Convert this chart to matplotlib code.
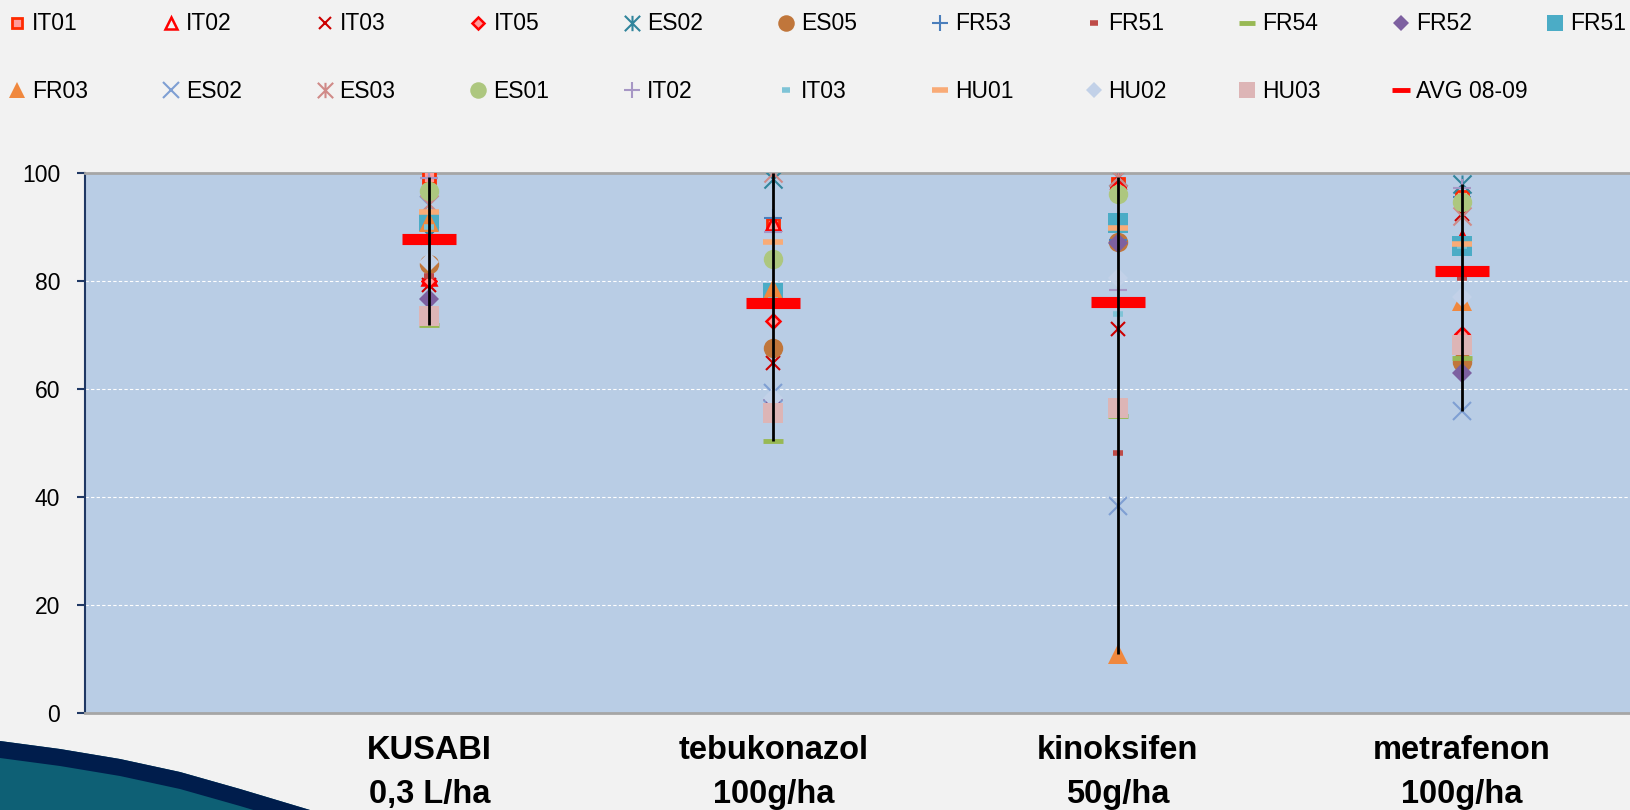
import numpy as np
import matplotlib
matplotlib.use('Agg')
import matplotlib.pyplot as plt
from matplotlib.path import Path

W, H = 1630, 810

# Chart data
categories = ['KUSABI\n0,3 L/ha', 'tebukonazol\n100g/ha', 'kinoksifen\n50g/ha', 'metrafenon\n100g/ha']
series_names = ['IT01', 'IT02', 'IT03', 'IT05', 'ES02', 'ES05', 'FR53', 'FR51', 'FR54', 'FR52', 'FR51',
                'FR03', 'ES02', 'ES03', 'ES01', 'IT02', 'IT03', 'HU01', 'HU02', 'HU03']
kusabi = [99.3, 80.5, 79.2, 80.0, 88.5, 83.1, 99.0, 81.0, 71.8, 76.6, 91.2,
          91.0, 94.0, 94.2, 96.7, 99.0, 90.0, 92.8, 83.5, 73.5]
tebukonazol = [90.4, 90.8, 64.8, 72.6, 98.8, 67.6, 91.6, 84.5, 50.4, 58.0, 77.8,
               78.6, 59.2, 100.0, 84.1, 89.1, 76.5, 87.3, 58.3, 55.6]
kinoksifen = [98.0, 98.5, 71.1, 97.5, 99.2, 87.3, 87.5, 48.1, 55.0, 87.1, 90.8,
              10.9, 38.3, 99.2, 96.2, 78.3, 73.8, 89.9, 80.6, 56.4]
metrafenon = [95.5, 88.0, 92.4, 70.2, 98.0, 65.0, 95.5, 80.6, 65.7, 62.9, 86.5,
              76.3, 55.9, 92.1, 94.7, 97.2, 86.5, 86.9, 77.1, 68.1]
avg_0809 = [87.7, 76.0, 76.2, 81.8]
y_ticks = [0, 20, 40, 60, 80, 100]

# marker styles (Excel-like)
asterisk = Path([(-1, -1), (1, 1), (-1, 1), (1, -1), (0, -1), (0, 1)],
                [Path.MOVETO, Path.LINETO, Path.MOVETO, Path.LINETO, Path.MOVETO, Path.LINETO])

styles = [
    dict(marker='s', ms=9, mfc='#FF9B9B', mec='#FF2A00', mew=2),
    dict(marker='^', ms=10, mfc='none', mec='#FF0000', mew=1.8),
    dict(marker='x', ms=10, mfc='none', mec='#CC0000', mew=1.5),
    dict(marker='D', ms=7, mfc='#FF9B9B', mec='#FF0000', mew=1.8),
    dict(marker=asterisk, ms=13, mfc='none', mec='#31859C', mew=1.5),
    dict(marker='o', ms=14, mfc='#C0763B', mec='#C0763B', mew=0),
    dict(marker='+', ms=13, mfc='none', mec='#4A7EBB', mew=1.5),
    dict(marker='_', ms=7, mec='#BE4B48', mew=4),
    dict(marker='_', ms=14, mec='#98B954', mew=3.5),
    dict(marker='D', ms=10, mfc='#7D60A0', mec='#7D60A0', mew=0),
    dict(marker='s', ms=14, mfc='#4BACC6', mec='#4BACC6', mew=0),
    dict(marker='^', ms=14, mfc='#F0883E', mec='#F0883E', mew=0),
    dict(marker='x', ms=13, mfc='none', mec='#7F9FD3', mew=1.5),
    dict(marker=asterisk, ms=13, mfc='none', mec='#D08A88', mew=1.5),
    dict(marker='o', ms=14, mfc='#ADC77F', mec='#ADC77F', mew=0),
    dict(marker='+', ms=13, mfc='none', mec='#A797C5', mew=1.5),
    dict(marker='_', ms=7, mec='#7FC4D7', mew=4),
    dict(marker='_', ms=14, mec='#F9AB77', mew=4),
    dict(marker='D', ms=10, mfc='#C2D1E8', mec='#C2D1E8', mew=0),
    dict(marker='s', ms=14, mfc='#DDB5B6', mec='#DDB5B6', mew=0),
]
avg_style = dict(marker='_', ms=39, mec='#FF0000', mew=8)

plt.rcParams['font.family'] = ['Liberation Sans', 'DejaVu Sans']

fig = plt.figure(figsize=(W / 100, H / 100), dpi=100, facecolor='#F2F2F2')

# background layer in pixel coordinates (slide decoration + legend)
bg = fig.add_axes([0, 0, 1, 1], zorder=0)
bg.set_xlim(0, W)
bg.set_ylim(H, 0)
bg.axis('off')

cx = np.array([0, 60, 120, 180, 240, 310, 330])
cy = np.array([741, 749, 759, 772, 789, 810, 818])
bg.fill(np.r_[cx, 0], np.r_[cy, 830], color='#0E6075', lw=0)
bg.fill(np.r_[cx, cx[::-1]], np.r_[cy, cy[::-1] + 17], color='#001D4C', lw=0)

leg_x0, leg_dx = 17, 153.8
rows_y = [23, 90]
entries = list(zip(series_names, styles)) + [('AVG 08-09', dict(marker='_', ms=13, mec='#FF0000', mew=3.5))]
for k, (name, st) in enumerate(entries):
    r, c = divmod(k, 11)
    x, y = leg_x0 + c * leg_dx, rows_y[r]
    st = dict(st)
    if name != 'AVG 08-09':
        st['ms'] = st['ms'] * 0.85
    bg.plot([x], [y], ls='none', **st)
    bg.text(x + 15, y + 1, name, fontsize=16.5, va='center', ha='left', color='black')

# main chart
ax = fig.add_axes([85 / W, (H - 713) / H, 1721 / W, 540 / H], zorder=1)
ax.set_facecolor('#B9CDE5')
xpos = np.arange(1, len(categories) + 1)
vals = np.array([kusabi, tebukonazol, kinoksifen, metrafenon]).T

for i, st in enumerate(styles):
    ax.plot(xpos, vals[i], ls='none', zorder=3 + i * 0.01, **st)
ax.plot(xpos, avg_0809, ls='none', zorder=4, **avg_style)
ax.vlines(xpos, vals.min(axis=0), vals.max(axis=0), color='black', lw=2, zorder=5)

ax.set_xlim(0, 5)
ax.set_ylim(0, 100)
ax.set_yticks(y_ticks)
ax.set_xticks(xpos, categories)
ax.yaxis.grid(True, color='white', ls=(0, (3, 2)), lw=0.8)
ax.set_axisbelow(True)
ax.tick_params(axis='y', direction='out', length=6, width=1.5, color='#1F3864', pad=12, labelsize=16.5)
ax.tick_params(axis='x', length=0, pad=16)
for lab in ax.get_xticklabels():
    lab.set_fontsize(23.5)
    lab.set_fontweight('bold')
    lab.set_linespacing(1.55)
ax.spines['top'].set_color('#A6A6A6')
ax.spines['top'].set_linewidth(2)
ax.spines['bottom'].set_color('#A6A6A6')
ax.spines['bottom'].set_linewidth(2)
ax.spines['left'].set_color('#1F3864')
ax.spines['left'].set_linewidth(1.5)
ax.spines['right'].set_visible(False)

fig.savefig('out.png', dpi=100, facecolor=fig.get_facecolor())
